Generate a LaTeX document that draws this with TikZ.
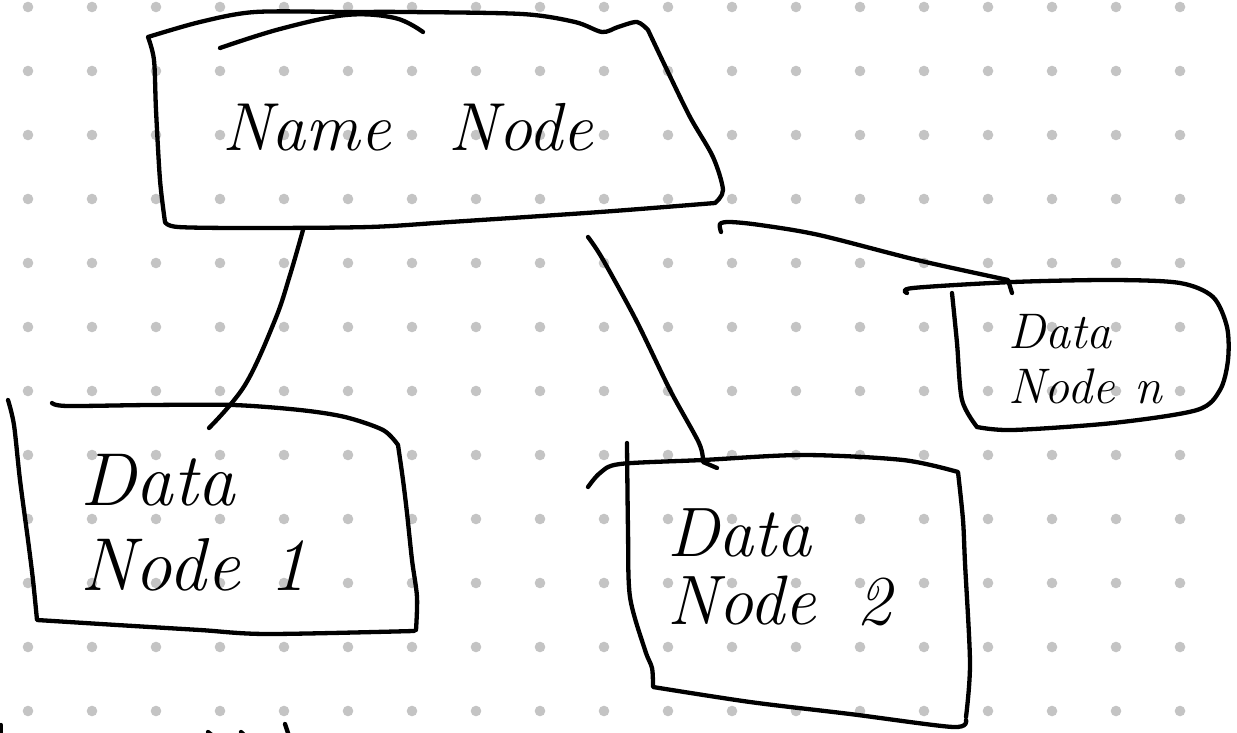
\documentclass[tikz,border=0pt]{standalone}
\usepackage{fontspec}
\definecolor{dotgray}{HTML}{C4C4C4}
\begin{document}
\begin{tikzpicture}[x=1pt,y=-1pt,
  hand/.style={line width=4.3pt, line cap=round, line join=round, black},
  griddot/.style={fill=dotgray, draw=none},
  lbl/.style={inner sep=0pt, align=left, anchor=north west}]
\useasboundingbox[fill=white] (0,0) rectangle (1237,733);
% dot grid
\foreach \gx in {28,92,...,1180}{
  \foreach \gy in {7,71,...,711}{
    \fill[griddot] (\gx,\gy) circle[radius=5.3];
  }
}
% ---------- Name Node ----------
\node[lbl, anchor=base west, font=\fontsize{68}{68}\selectfont\itshape] (nn) at (222,150) {Name\hspace{58pt}Node};
\draw[hand] plot[smooth, tension=0.5] coordinates {(165,222) (160,180) (156,110) (154,60) (148,37)}
  -- plot[smooth, tension=0.5] coordinates {(148,37) (200,22) (255,12) (346,12) (407,12) (522,14) (575,22) (602,32) (618,27) (637,22) (648,30)}
  -- plot[smooth, tension=0.5] coordinates {(648,30) (667,70) (690,117) (713,157) (723,190) (715,203)}
  -- plot[smooth, tension=0.5] coordinates {(715,203) (600,212) (450,222) (369,227) (250,228) (178,227) (165,222)};
\draw[hand] plot[smooth, tension=0.6] coordinates {(220,48) (280,29) (346,15) (395,18) (423,32)};
% ---------- Data Node 1 ----------
\node[lbl, font=\fontsize{75}{85}\selectfont\itshape] (dn1) at (80,454) {Data\\Node\hspace{30pt}1};
\draw[hand] plot[smooth, tension=0.5] coordinates {(52,403) (67,406) (150,405) (233,405) (300,410) (345,417) (383,430) (398,445)}
  -- plot[smooth, tension=0.5] coordinates {(398,445) (403,480) (407,513) (412,560) (417,597) (416,630)};
\draw[hand] plot[smooth, tension=0.5] coordinates {(8,400) (14,425) (20,480) (28,540) (33,580) (37,620)}
  -- plot[smooth, tension=0.5] coordinates {(37,620) (117,625) (200,630) (267,634) (414,631)};
% ---------- Data Node 2 ----------
\node[lbl, font=\fontsize{70}{68}\selectfont\itshape] (dn2) at (667,508) {Data\\Node\hspace{40pt}2};
\draw[hand] plot[smooth, tension=0.5] coordinates {(588,487) (600,473) (620,464) (703,460) (803,455) (903,460) (958,472)}
  -- plot[smooth, tension=0.5] coordinates {(958,472) (963,520) (965,563) (970,663) (966,717)};
\draw[hand] plot[smooth, tension=0.5] coordinates {(627,443) (628,530) (630,597) (645,650) (652,668) (653,687)}
  -- plot[smooth, tension=0.5] coordinates {(653,687) (750,702) (850,714) (953,727) (966,720)};
% ---------- Data Node n ----------
\node[lbl, font=\fontsize{50}{55}\selectfont\itshape] (dnn) at (1008,314) {Data\\Node\hspace{20pt}n};
\draw[hand] plot[smooth, tension=0.5] coordinates {(907,293) (913,288) (1013,282) (1113,280) (1180,283) (1213,297) (1227,327) (1228,360) (1220,390) (1197,410) (1113,423) (1013,430) (977,427)};
\draw[hand] plot[smooth, tension=0.5] coordinates {(952,293) (957,343) (962,400) (977,427)};
% ---------- connector end points ----------
\coordinate (nn-s1) at (303,230);
\coordinate (nn-s2) at (588,237);
\coordinate (nn-sn) at (721,232);
\coordinate (dn1-t) at (209,428);
\coordinate (dn2-t) at (717,468);
\coordinate (dnn-t) at (1012,293);
% ---------- connectors ----------
\draw[hand] plot[smooth, tension=0.6] coordinates {(nn-s1) (290,275) (275,320) (245,385) (dn1-t)};
\draw[hand] plot[smooth, tension=0.5] coordinates {(nn-s2) (602,258) (636,320) (670,390) (699,443) (703,462)} -- (dn2-t);
\draw[hand] plot[smooth, tension=0.5] coordinates {(nn-sn) (720,224) (730,222) (760,225) (819,235) (917,260) (1008,280)} -- (dnn-t);
% ---------- cut-off strokes at the bottom edge ----------
\draw[hand] (1,725) -- (1,736);
\draw[hand] (208,732) -- (213,736);
\draw[hand] (241,732) -- (245,736);
\draw[hand] (285,724) -- (289,736);
\end{tikzpicture}
\end{document}
